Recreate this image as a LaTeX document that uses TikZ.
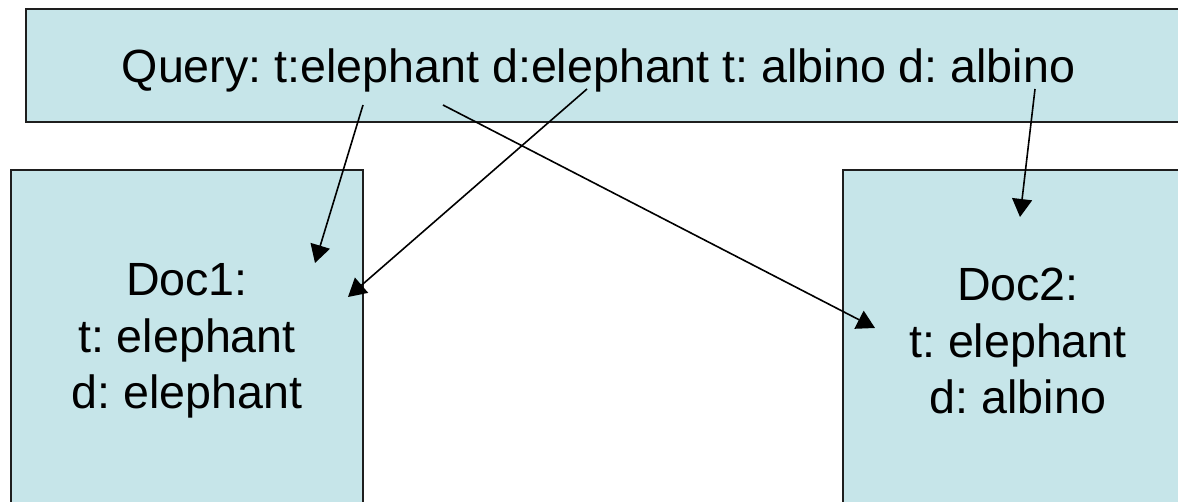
\documentclass[tikz,border=0pt]{standalone}
\usepackage{fontspec}
\setmainfont{Liberation Sans}
\usetikzlibrary{arrows.meta}
\definecolor{boxfill}{RGB}{198,229,233}
\definecolor{boxline}{RGB}{30,30,30}
\tikzset{
  box/.style={draw=boxline, line width=0.75pt, fill=boxfill, rectangle, inner sep=0pt},
  lbl/.style={font=\fontsize{23.3}{28.3}\selectfont\frenchspacing, align=center, inner sep=0pt},
  conn/.style={line width=0.8pt, -{Triangle[length=9pt,width=10pt]}}
}
\begin{document}
\frenchspacing
\begin{tikzpicture}[x=0.5pt,y=-0.5pt]
\useasboundingbox (0,0) rectangle (1178,502);
\clip (0,0) rectangle (1178,502);
% boxes
\node[box, minimum width=590pt, minimum height=56.5pt] (query) at (616,65.5) {};
\node[box, minimum width=176pt, minimum height=171pt, lbl] (doc1) at (187,341) {Doc1:\\t: elephant\\d: elephant};
\node[box, minimum width=175pt, minimum height=171pt, lbl] (doc2) at (1018,341) {Doc2:\\t: elephant\\d: albino};
\node[lbl, anchor=base] (qtext) at (598.5,83) {Query: t:elephant d:elephant t: albino d: albino};
% connector ends
\coordinate (s1) at (363,105);
\coordinate (e1) at (315,263);
\coordinate (s2) at (587,89);
\coordinate (e2) at (348,297);
\coordinate (s3) at (443,105);
\coordinate (e3) at (875,328);
\coordinate (s4) at (1035,89);
\coordinate (e4) at (1020,217);
\draw[conn] (s1) -- (e1);
\draw[conn] (s2) -- (e2);
\draw[conn] (s3) -- (e3);
\draw[conn] (s4) -- (e4);
\end{tikzpicture}
\end{document}
